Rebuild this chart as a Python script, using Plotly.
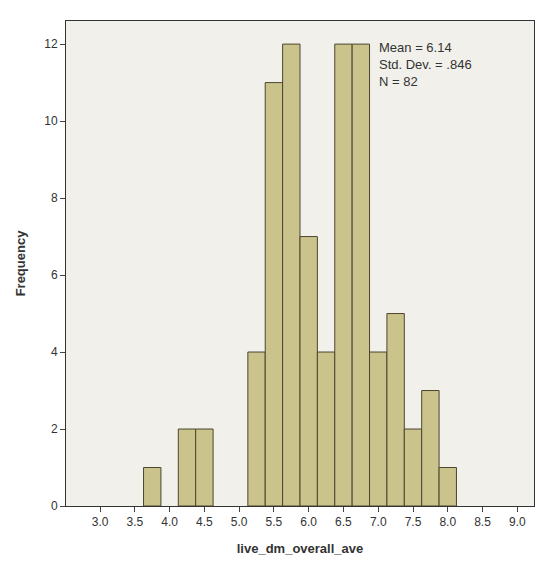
import plotly.graph_objects as go

centers = [3.75, 4.25, 4.5, 5.25, 5.5, 5.75, 6.0, 6.25, 6.5, 6.75, 7.0, 7.25, 7.5, 7.75, 8.0]
counts = [1, 2, 2, 4, 11, 12, 7, 4, 12, 12, 4, 5, 2, 3, 1]
xticks = [3.0, 3.5, 4.0, 4.5, 5.0, 5.5, 6.0, 6.5, 7.0, 7.5, 8.0, 8.5, 9.0]
yticks = [0, 2, 4, 6, 8, 10, 12]

fig = go.Figure(go.Bar(x=centers, y=counts, width=0.25,
                       marker=dict(color="#cbc38c", line=dict(color="#4a4630", width=1))))
fig.add_annotation(x=0.665, y=0.965, xref="paper", yref="paper", xanchor="left", yanchor="top",
                   showarrow=False, align="left",
                   text="Mean = 6.14<br>Std. Dev. = .846<br>N = 82",
                   font=dict(family="Liberation Sans", size=13, color="#333"))
fig.update_layout(
    width=553, height=573, margin=dict(l=56, r=27, t=12, b=75),
    paper_bgcolor="white", plot_bgcolor="#f1f0ea", showlegend=False,
    font=dict(family="Liberation Sans", size=12, color="#333"),
    xaxis=dict(range=[2.51, 9.24], tickvals=xticks, ticktext=[f"{v:.1f}" for v in xticks],
               ticks="outside", ticklen=5, showgrid=False, zeroline=False,
               showline=True, linecolor="#333", mirror=True,
               title=dict(text="<b>live_dm_overall_ave</b>", font=dict(size=13))),
    yaxis=dict(range=[0, 12.6], tickvals=yticks, ticks="outside", ticklen=5,
               showgrid=False, zeroline=False, showline=True, linecolor="#333", mirror=True,
               title=dict(text="<b>Frequency</b>", font=dict(size=13))),
)
fig.write_html("out.html")
